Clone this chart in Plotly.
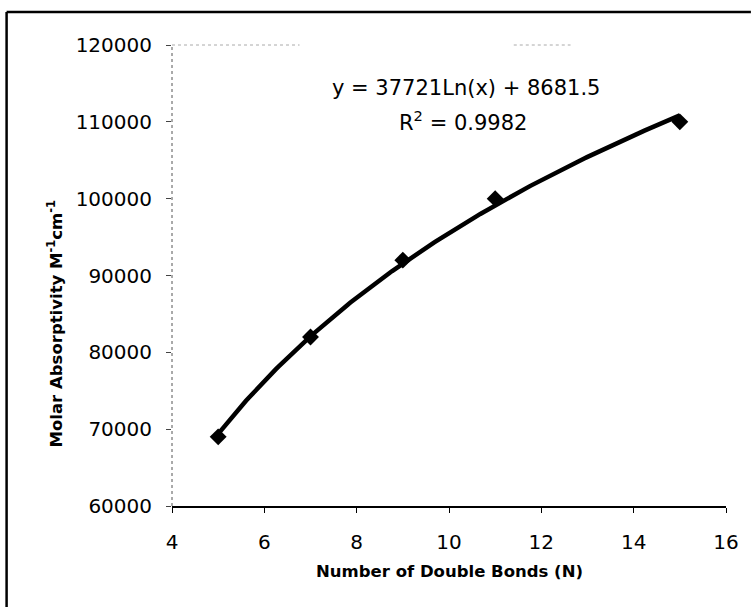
import numpy as np
import plotly.graph_objects as go

# Measured molar absorptivity vs number of conjugated double bonds
double_bonds = [5, 7, 9, 11, 15]
absorptivity = [69000, 82000, 92000, 100000, 110000]

# Logarithmic trendline coefficients: y = a*ln(x) + b
fit_a = 37721
fit_b = 8681.5
fit_r2 = 0.9982

x_ticks = [4, 6, 8, 10, 12, 14, 16]
y_ticks = [60000, 70000, 80000, 90000, 100000, 110000, 120000]

W, H = 751, 607
M_L, M_R, M_T, M_B = 172, 23, 45, 101
PW, PH = W - M_L - M_R, H - M_T - M_B


def px_x(px):
    """Pixel column -> paper x coordinate."""
    return (px - M_L) / PW


def px_y(py):
    """Pixel row (from top) -> paper y coordinate."""
    return (H - M_B - py) / PH


xs = np.linspace(min(double_bonds), max(double_bonds), 200)
ys = fit_a * np.log(xs) + fit_b

fig = go.Figure()
fig.add_trace(go.Scatter(
    x=xs, y=ys, mode="lines",
    line=dict(color="black", width=4.5),
    hoverinfo="skip", showlegend=False,
))
fig.add_trace(go.Scatter(
    x=double_bonds, y=absorptivity, mode="markers",
    marker=dict(symbol="diamond", size=13, color="black"),
    showlegend=False,
))

tick_font = dict(family="DejaVu Sans", size=20, color="black")

fig.update_xaxes(
    range=[4, 16], tickvals=x_ticks, ticktext=[str(v) for v in x_ticks],
    showgrid=False, zeroline=False,
    showline=True, linecolor="black", linewidth=2,
    ticks="outside", ticklen=5, tickcolor="black", tickwidth=1,
    tickfont=tick_font, ticklabelstandoff=12,
)
fig.update_yaxes(
    range=[60000, 120000], tickvals=y_ticks, ticktext=[str(v) for v in y_ticks],
    showgrid=False, zeroline=False, showline=False,
    ticks="outside", ticklen=5, tickcolor="#444444", tickwidth=1,
    tickfont=tick_font, ticklabelstandoff=10,
)

# Dotted left edge of the plot area (value axis line)
fig.add_shape(type="line", xref="paper", yref="paper", x0=0, x1=0, y0=0, y1=1,
              line=dict(color="#555555", width=1, dash="dot"))
# Faint dotted fragments along the top edge of the plot area
fig.add_shape(type="line", xref="paper", yref="paper", x0=0, x1=px_x(300), y0=1, y1=1,
              line=dict(color="#aaaaaa", width=1, dash="dot"))
fig.add_shape(type="line", xref="paper", yref="paper", x0=px_x(515), x1=px_x(572), y0=1, y1=1,
              line=dict(color="#aaaaaa", width=1, dash="dot"))

# Outer frame (left and top edges)
fig.add_shape(type="line", xref="paper", yref="paper",
              x0=px_x(6), x1=px_x(6), y0=px_y(H + 2), y1=px_y(12),
              line=dict(color="black", width=2.5))
fig.add_shape(type="line", xref="paper", yref="paper",
              x0=px_x(6), x1=px_x(W + 2), y0=px_y(12), y1=px_y(12),
              line=dict(color="black", width=2.5))


def label(px, py, text, size, angle=0):
    fig.add_annotation(
        x=px_x(px), y=px_y(py), xref="paper", yref="paper", showarrow=False,
        xanchor="center", yanchor="middle", textangle=angle,
        text=text, font=dict(family="DejaVu Sans", size=size, color="black"),
    )


# Axis titles
label(450, 571, "<b>Number of Double Bonds (N)</b>", 16.5)
label(55, 323, "<b>Molar Absorptivity M<sup>-1</sup>cm<sup>-1</sup></b>", 16.5, angle=-90)

# Trendline equation and goodness of fit
label(467, 88, f"y = {fit_a}Ln(x) + {fit_b}", 21)
label(464, 121, f"R<sup>2</sup> = {fit_r2}", 21)

fig.update_layout(
    width=W, height=H,
    margin=dict(l=M_L, r=M_R, t=M_T, b=M_B),
    paper_bgcolor="white", plot_bgcolor="white",
    font=dict(family="DejaVu Sans", color="black"),
)

fig.write_html("out.html")
